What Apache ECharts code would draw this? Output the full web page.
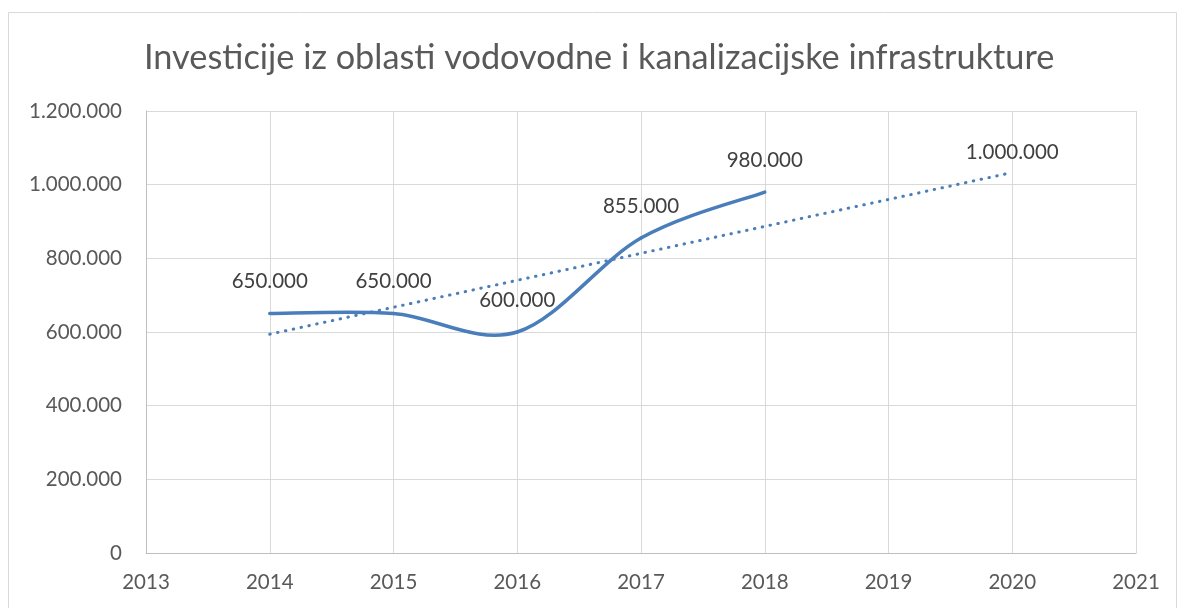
<!DOCTYPE html>
<html>
<head>
<meta charset="utf-8">
<script src="https://cdn.jsdelivr.net/npm/echarts@6/dist/echarts.min.js"></script>
<style>
html,body{margin:0;padding:0;background:#fff;}
#chart{width:1178px;height:608px;}
</style>
</head>
<body>
<div id="chart"></div>
<script>
const titleText = 'Investicije iz oblasti vodovodne i kanalizacijske infrastrukture';
const years = [2014, 2015, 2016, 2017, 2018, 2019, 2020];
const values = [650000, 650000, 600000, 855000, 980000, null, 1000000];
const trendYears = [2014, 2020];
const trendValues = [594000, 1033000];
const xMin = 2013, xMax = 2021;
const yMin = 0, yMax = 1200000, yStep = 200000;

function fmt(v) {
  return String(Math.round(v)).replace(/\B(?=(\d{3})+(?!\d))/g, '.');
}

const lineColor = '#4a7ebb';
const font = 'Lato, "Open Sans", sans-serif';

// Smoothed curve (Excel-like Catmull-Rom Bezier), drawn through the axis scales via api.coord
function renderSmooth(params, api) {
  if (params.dataIndex !== 0) return null;
  const runs = [];
  let cur = [];
  for (let i = 0; i < years.length; i++) {
    if (values[i] == null) { if (cur.length) runs.push(cur); cur = []; }
    else cur.push(api.coord([years[i], values[i]]));
  }
  if (cur.length) runs.push(cur);
  const children = [];
  runs.forEach(pts => {
    if (pts.length < 2) return;
    for (let i = 0; i < pts.length - 1; i++) {
      const p0 = pts[Math.max(0, i - 1)], p1 = pts[i], p2 = pts[i + 1], p3 = pts[Math.min(pts.length - 1, i + 2)];
      children.push({
        type: 'bezierCurve',
        shape: {
          x1: p1[0], y1: p1[1], x2: p2[0], y2: p2[1],
          cpx1: p1[0] + (p2[0] - p0[0]) / 6, cpy1: p1[1] + (p2[1] - p0[1]) / 6,
          cpx2: p2[0] - (p3[0] - p1[0]) / 6, cpy2: p2[1] - (p3[1] - p1[1]) / 6
        },
        style: {stroke: lineColor, lineWidth: 3.5, fill: null, lineCap: 'round', lineJoin: 'round'}
      });
    }
  });
  return {type: 'group', children: children};
}

const chart = echarts.init(document.getElementById('chart'), null, {renderer: 'canvas'});
chart.setOption({
  backgroundColor: '#ffffff',
  animation: false,
  title: {
    text: titleText,
    left: 144,
    top: 41,
    padding: 0,
    textStyle: {fontFamily: font, fontSize: 34.3, fontWeight: 'normal', color: '#595959'}
  },
  graphic: [{
    type: 'rect',
    shape: {x: 8.5, y: 12.5, width: 1168, height: 640},
    style: {fill: 'none', stroke: '#d9d9d9', lineWidth: 1},
    silent: true, z: -1
  }],
  grid: {left: 146, right: 42, top: 111, bottom: 55, containLabel: false},
  xAxis: {
    type: 'value', min: xMin, max: xMax, interval: 1,
    axisLine: {show: true, lineStyle: {color: '#bfbfbf', width: 1}},
    axisTick: {show: false},
    splitLine: {show: true, lineStyle: {color: '#d9d9d9', width: 1}},
    axisLabel: {fontFamily: font, fontSize: 20.5, color: '#595959', margin: 19, formatter: v => String(v)}
  },
  yAxis: {
    type: 'value', min: yMin, max: yMax, interval: yStep,
    axisLine: {show: true, lineStyle: {color: '#bfbfbf', width: 1}},
    axisTick: {show: false},
    splitLine: {show: true, lineStyle: {color: '#d9d9d9', width: 1}},
    axisLabel: {fontFamily: font, fontSize: 20.5, color: '#595959', margin: 24, formatter: v => fmt(v)}
  },
  series: [
    {
      type: 'line',
      data: trendYears.map((y, i) => [y, trendValues[i]]),
      symbol: 'none',
      lineStyle: {color: lineColor, width: 3, type: [0.5, 7.5], cap: 'round'},
      z: 1
    },
    {
      type: 'custom',
      renderItem: renderSmooth,
      data: [[years[0], values[0]]],
      clip: false,
      z: 2
    },
    {
      type: 'line',
      data: years.map((y, i) => [y, values[i]]),
      connectNulls: false,
      symbol: 'circle',
      symbolSize: 1,
      showSymbol: true,
      itemStyle: {color: 'rgba(0,0,0,0)'},
      lineStyle: {opacity: 0, width: 0},
      label: {
        show: true, position: 'top', distance: 21,
        fontFamily: font, fontSize: 20.5, color: '#404040',
        formatter: p => fmt(p.value[1])
      },
      z: 3
    }
  ]
});
</script>
</body>
</html>
